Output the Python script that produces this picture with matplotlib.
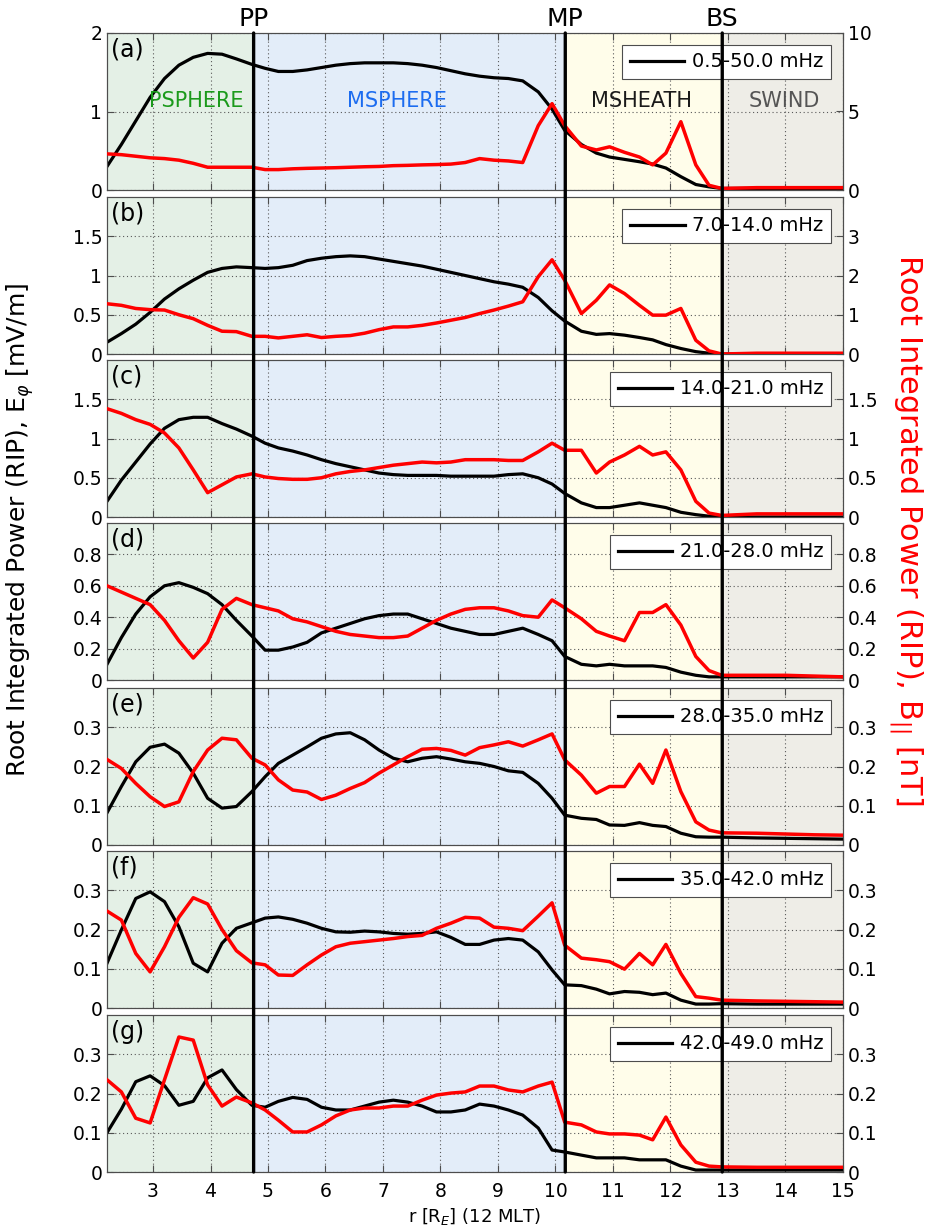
import numpy as np
import matplotlib.pyplot as plt
from matplotlib.patches import ConnectionPatch
from matplotlib.ticker import FormatStrFormatter

plt.rcParams['font.family'] = ['DejaVu Sans']

# radial distance grid [R_E] along 12 MLT
r_re = [2.2, 2.45, 2.7, 2.95, 3.2, 3.45, 3.7, 3.95, 4.2, 4.45,
        4.72, 4.95, 5.18, 5.43, 5.68, 5.93, 6.18, 6.43, 6.68, 6.93,
        7.18, 7.43, 7.68, 7.93, 8.18, 8.43, 8.68, 8.93, 9.18, 9.43,
        9.7, 9.94, 10.16, 10.45, 10.71, 10.94, 11.2, 11.46, 11.69, 11.92,
        12.18, 12.44, 12.67, 12.89, 13.5, 14.0, 14.5, 15.0]

# boundaries
r_pp = 4.75
r_mp = 10.17
r_bs = 12.9

bands = ['0.5-50.0 mHz', '7.0-14.0 mHz', '14.0-21.0 mHz', '21.0-28.0 mHz',
         '28.0-35.0 mHz', '35.0-42.0 mHz', '42.0-49.0 mHz']
panel_tags = ['(a)', '(b)', '(c)', '(d)', '(e)', '(f)', '(g)']

# E_phi RIP [mV/m] (black, left axis)
e_a = [0.30, 0.58, 0.88, 1.18, 1.42, 1.59, 1.69, 1.74, 1.73, 1.67,
       1.60, 1.55, 1.51, 1.51, 1.53, 1.56, 1.59, 1.61, 1.62, 1.62,
       1.62, 1.61, 1.59, 1.56, 1.52, 1.48, 1.45, 1.43, 1.42, 1.39,
       1.25, 1.03, 0.76, 0.58, 0.47, 0.42, 0.39, 0.36, 0.33, 0.28,
       0.17, 0.07, 0.04, 0.02, 0.02, 0.02, 0.02, 0.02]
e_b = [0.15, 0.26, 0.38, 0.53, 0.70, 0.83, 0.94, 1.04, 1.09, 1.11,
       1.10, 1.09, 1.10, 1.13, 1.19, 1.22, 1.24, 1.25, 1.24, 1.21,
       1.18, 1.15, 1.12, 1.08, 1.04, 1.00, 0.96, 0.92, 0.89, 0.85,
       0.72, 0.55, 0.42, 0.29, 0.25, 0.26, 0.24, 0.21, 0.18, 0.12,
       0.07, 0.03, 0.01, 0.00, 0.00, 0.00, 0.00, 0.00]
e_c = [0.20, 0.47, 0.70, 0.93, 1.13, 1.24, 1.27, 1.27, 1.19, 1.12,
       1.03, 0.94, 0.88, 0.84, 0.79, 0.73, 0.68, 0.64, 0.60, 0.56,
       0.54, 0.53, 0.53, 0.53, 0.52, 0.52, 0.52, 0.52, 0.54, 0.55,
       0.50, 0.42, 0.30, 0.18, 0.12, 0.12, 0.15, 0.18, 0.15, 0.12,
       0.06, 0.03, 0.01, 0.00, 0.00, 0.00, 0.00, 0.00]
e_d = [0.10, 0.27, 0.42, 0.53, 0.60, 0.62, 0.59, 0.55, 0.48, 0.38,
       0.28, 0.19, 0.19, 0.21, 0.24, 0.30, 0.33, 0.36, 0.39, 0.41,
       0.42, 0.42, 0.39, 0.36, 0.33, 0.31, 0.29, 0.29, 0.31, 0.33,
       0.29, 0.25, 0.15, 0.10, 0.09, 0.10, 0.09, 0.09, 0.09, 0.08,
       0.05, 0.03, 0.02, 0.02, 0.02, 0.02, 0.02, 0.02]
e_e = [0.082, 0.149, 0.212, 0.249, 0.257, 0.234, 0.183, 0.119, 0.094, 0.098,
       0.136, 0.174, 0.208, 0.229, 0.250, 0.272, 0.283, 0.286, 0.268, 0.242,
       0.221, 0.212, 0.221, 0.225, 0.219, 0.212, 0.208, 0.200, 0.189, 0.185,
       0.157, 0.119, 0.076, 0.068, 0.065, 0.051, 0.050, 0.057, 0.050, 0.047,
       0.030, 0.021, 0.020, 0.020, 0.018, 0.017, 0.016, 0.015]
e_f = [0.114, 0.199, 0.279, 0.296, 0.271, 0.207, 0.114, 0.092, 0.165, 0.203,
       0.217, 0.229, 0.232, 0.226, 0.216, 0.203, 0.194, 0.193, 0.196, 0.194,
       0.190, 0.188, 0.190, 0.194, 0.180, 0.162, 0.162, 0.173, 0.177, 0.173,
       0.143, 0.097, 0.059, 0.057, 0.048, 0.036, 0.042, 0.040, 0.034, 0.038,
       0.020, 0.010, 0.010, 0.011, 0.010, 0.010, 0.010, 0.010]
e_g = [0.100, 0.160, 0.230, 0.245, 0.220, 0.170, 0.180, 0.240, 0.260, 0.210,
       0.170, 0.165, 0.180, 0.190, 0.185, 0.165, 0.158, 0.158, 0.168, 0.178,
       0.183, 0.178, 0.168, 0.153, 0.153, 0.158, 0.173, 0.168, 0.158, 0.145,
       0.112, 0.056, 0.051, 0.043, 0.036, 0.036, 0.036, 0.031, 0.031, 0.031,
       0.015, 0.005, 0.005, 0.005, 0.005, 0.005, 0.005, 0.005]

# B_par RIP [nT] (red, right axis)
b_a = [2.30, 2.25, 2.15, 2.05, 2.00, 1.90, 1.70, 1.45, 1.45, 1.45,
       1.45, 1.30, 1.30, 1.35, 1.38, 1.40, 1.42, 1.45, 1.48, 1.50,
       1.55, 1.57, 1.60, 1.62, 1.65, 1.75, 2.00, 1.90, 1.85, 1.75,
       4.10, 5.50, 4.10, 2.80, 2.55, 2.75, 2.40, 2.10, 1.60, 2.35,
       4.35, 1.60, 0.30, 0.10, 0.15, 0.15, 0.15, 0.15]
b_b = [1.28, 1.24, 1.16, 1.13, 1.12, 1.00, 0.90, 0.73, 0.58, 0.57,
       0.45, 0.45, 0.41, 0.45, 0.49, 0.42, 0.45, 0.47, 0.53, 0.62,
       0.69, 0.69, 0.73, 0.79, 0.86, 0.93, 1.03, 1.12, 1.22, 1.33,
       1.97, 2.40, 1.88, 1.03, 1.37, 1.76, 1.54, 1.24, 0.99, 0.99,
       1.16, 0.35, 0.08, 0.00, 0.02, 0.02, 0.02, 0.02]
b_c = [1.38, 1.32, 1.24, 1.18, 1.07, 0.88, 0.60, 0.31, 0.41, 0.51,
       0.55, 0.51, 0.49, 0.48, 0.48, 0.50, 0.55, 0.58, 0.60, 0.63,
       0.66, 0.68, 0.70, 0.69, 0.70, 0.73, 0.73, 0.73, 0.72, 0.72,
       0.83, 0.94, 0.85, 0.85, 0.56, 0.70, 0.79, 0.90, 0.79, 0.83,
       0.60, 0.20, 0.05, 0.02, 0.04, 0.04, 0.04, 0.04]
b_d = [0.60, 0.56, 0.52, 0.48, 0.38, 0.25, 0.14, 0.24, 0.45, 0.52,
       0.48, 0.46, 0.44, 0.39, 0.37, 0.34, 0.31, 0.29, 0.28, 0.27,
       0.27, 0.28, 0.33, 0.38, 0.42, 0.45, 0.46, 0.46, 0.44, 0.41,
       0.40, 0.51, 0.46, 0.39, 0.31, 0.28, 0.25, 0.43, 0.43, 0.48,
       0.35, 0.15, 0.06, 0.03, 0.03, 0.03, 0.025, 0.02]
b_e = [0.218, 0.195, 0.157, 0.123, 0.098, 0.110, 0.187, 0.242, 0.272, 0.268,
       0.221, 0.204, 0.166, 0.140, 0.135, 0.116, 0.127, 0.144, 0.159, 0.183,
       0.204, 0.225, 0.244, 0.246, 0.241, 0.229, 0.248, 0.255, 0.263, 0.252,
       0.268, 0.283, 0.217, 0.178, 0.132, 0.149, 0.149, 0.206, 0.157, 0.242,
       0.136, 0.059, 0.038, 0.031, 0.030, 0.028, 0.026, 0.025]
b_f = [0.247, 0.224, 0.139, 0.092, 0.156, 0.231, 0.281, 0.265, 0.200, 0.146,
       0.115, 0.110, 0.084, 0.083, 0.110, 0.135, 0.156, 0.165, 0.169, 0.173,
       0.177, 0.182, 0.185, 0.203, 0.216, 0.231, 0.229, 0.206, 0.203, 0.197,
       0.234, 0.268, 0.160, 0.127, 0.123, 0.118, 0.099, 0.139, 0.110, 0.162,
       0.088, 0.029, 0.025, 0.020, 0.018, 0.017, 0.016, 0.015]
b_g = [0.235, 0.204, 0.137, 0.125, 0.235, 0.344, 0.336, 0.222, 0.168, 0.191,
       0.176, 0.158, 0.132, 0.102, 0.102, 0.120, 0.143, 0.158, 0.163, 0.163,
       0.168, 0.168, 0.183, 0.196, 0.201, 0.204, 0.219, 0.219, 0.209, 0.204,
       0.219, 0.229, 0.127, 0.120, 0.102, 0.097, 0.097, 0.094, 0.082, 0.140,
       0.069, 0.025, 0.015, 0.013, 0.012, 0.012, 0.012, 0.012]

e_all = [e_a, e_b, e_c, e_d, e_e, e_f, e_g]
b_all = [b_a, b_b, b_c, b_d, b_e, b_f, b_g]

left_lim = [2, 2, 2, 1, 0.4, 0.4, 0.4]
left_ticks = [[0, 1, 2], [0, 0.5, 1, 1.5], [0, 0.5, 1, 1.5], [0, 0.2, 0.4, 0.6, 0.8],
              [0, 0.1, 0.2, 0.3], [0, 0.1, 0.2, 0.3], [0, 0.1, 0.2, 0.3]]
right_lim = [10, 4, 2, 1, 0.4, 0.4, 0.4]
right_ticks = [[0, 5, 10], [0, 1, 2, 3], [0, 0.5, 1, 1.5], [0, 0.2, 0.4, 0.6, 0.8],
               [0, 0.1, 0.2, 0.3], [0, 0.1, 0.2, 0.3], [0, 0.1, 0.2, 0.3]]

region_colors = ['#e4f0e6', '#e3edf9', '#fffdea', '#eeede7']

W, H = 934, 1232
fig = plt.figure(figsize=(W / 100, H / 100), dpi=100)
tops = [33, 197, 360, 523, 688, 851, 1015]
panel_h = 157

axes = []
for i in range(7):
    ax = fig.add_axes([107 / W, 1 - (tops[i] + panel_h) / H, 736 / W, panel_h / H])
    ax.axvspan(2.2, r_pp, color=region_colors[0], lw=0, zorder=0)
    ax.axvspan(r_pp, r_mp, color=region_colors[1], lw=0, zorder=0)
    ax.axvspan(r_mp, r_bs, color=region_colors[2], lw=0, zorder=0)
    ax.axvspan(r_bs, 15, color=region_colors[3], lw=0, zorder=0)

    line_e, = ax.plot(r_re, e_all[i], color='black', lw=2.3, label=bands[i], zorder=3)
    ax.set_xlim(2.2, 15)
    ax.set_ylim(0, left_lim[i])
    ax.set_yticks(left_ticks[i])
    ax.set_xticks(range(3, 16))
    ax.yaxis.set_major_formatter(FormatStrFormatter('%g'))
    ax.grid(True, linestyle=(0, (1, 2.5)), color='0.35', lw=0.8)
    ax.tick_params(axis='both', direction='in', labelsize=13.5, length=5,
                   top=True, color='0.3')
    ax.tick_params(axis='x', pad=7)
    if i < 6:
        ax.tick_params(axis='x', labelbottom=False)
    for s in ax.spines.values():
        s.set_color('0.3')

    ax2 = ax.twinx()
    ax2.plot(r_re, b_all[i], color='red', lw=2.5, zorder=3)
    ax2.set_ylim(0, right_lim[i])
    ax2.set_yticks(right_ticks[i])
    ax2.yaxis.set_major_formatter(FormatStrFormatter('%g'))
    ax2.tick_params(axis='y', direction='in', labelsize=13.5, length=5, color='0.3')
    for s in ax2.spines.values():
        s.set_color('0.3')

    leg = ax2.legend(handles=[line_e], loc='upper right', fontsize=14,
                     handlelength=2.8, fancybox=False, framealpha=1,
                     borderaxespad=0.6, handletextpad=0.4)
    leg.get_frame().set_edgecolor('0.3')
    leg.get_frame().set_linewidth(0.8)

    ax.text(0.005, 0.97, panel_tags[i], transform=ax.transAxes, fontsize=17,
            ha='left', va='top', zorder=5)
    axes.append(ax)

# region names in the top panel
ax_a = axes[0]
ax_a.text(3.76, 1.13, 'PSPHERE', color='#1b9a1b', fontsize=15, ha='center', va='center')
ax_a.text(7.24, 1.13, 'MSPHERE', color='#1c6cf0', fontsize=15, ha='center', va='center')
ax_a.text(11.49, 1.13, 'MSHEATH', color='#1a1a1a', fontsize=15, ha='center', va='center')
ax_a.text(13.98, 1.13, 'SWIND', color='#555555', fontsize=15, ha='center', va='center')

# boundary lines through all panels
for rb, name in zip([r_pp, r_mp, r_bs], ['PP', 'MP', 'BS']):
    con = ConnectionPatch(xyA=(rb, 0), coordsA='data', axesA=axes[-1],
                          xyB=(rb, left_lim[0]), coordsB='data', axesB=ax_a,
                          color='black', lw=2.4, zorder=10)
    fig.add_artist(con)
    ax_a.text(rb, 1.01, name, transform=ax_a.get_xaxis_transform(), fontsize=18,
              ha='center', va='bottom')

fig.text(0.022, 0.570, r'Root Integrated Power (RIP), E$_\varphi$ [mV/m]',
         rotation=90, fontsize=18, ha='center', va='center')
fig.text(0.970, 0.570, r'Root Integrated Power (RIP), B$_{||}$ [nT]',
         rotation=270, fontsize=22, ha='center', va='center', color='red')
axes[-1].set_xlabel(r'r [R$_E$] (12 MLT)', fontsize=13, labelpad=4)

plt.savefig('out.png', dpi=100)
